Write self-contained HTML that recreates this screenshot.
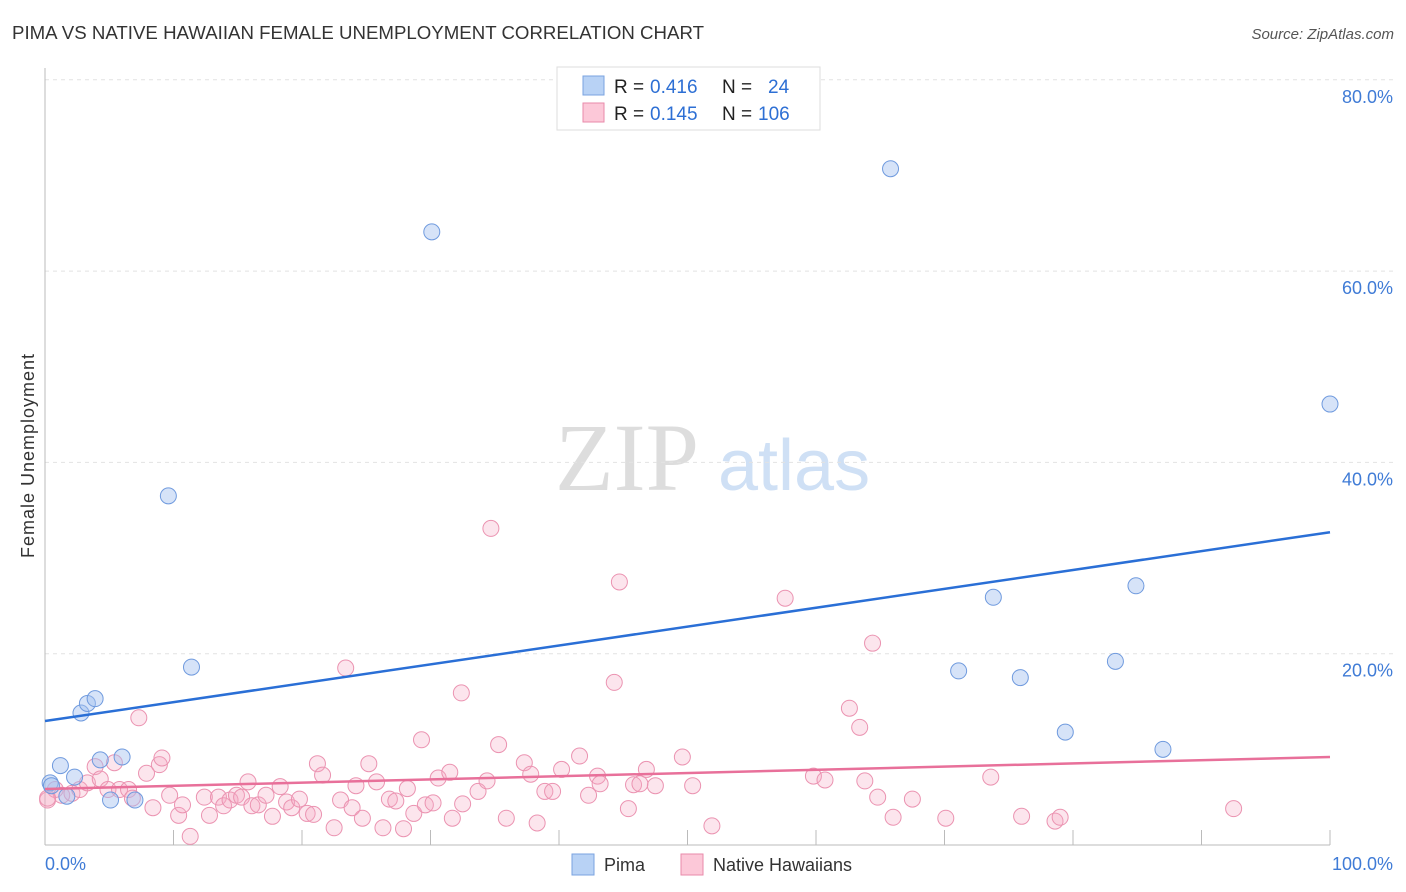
<!DOCTYPE html>
<html><head><meta charset="utf-8"><style>
body{margin:0;background:#fff;font-family:"Liberation Sans",sans-serif;}
svg{display:block}
</style></head><body>
<svg id="chart" width="1406" height="892">
<text x="12" y="39" font-size="18" fill="#333" textLength="692" lengthAdjust="spacingAndGlyphs">PIMA VS NATIVE HAWAIIAN FEMALE UNEMPLOYMENT CORRELATION CHART</text>
<text x="1394" y="39" font-size="15" fill="#555" font-style="italic" text-anchor="end">Source: ZipAtlas.com</text>
<text x="555" y="490" font-size="96" fill="#ddd" font-family="Liberation Serif,serif">ZIP</text>
<text x="718" y="490" font-size="72" fill="#cfe0f5">atlas</text>
<text transform="translate(34,456) rotate(-90)" font-size="18" fill="#333" text-anchor="middle" textLength="204">Female Unemployment</text>
<g id="grid"></g><g id="marks"></g>
<g>
<rect x="557" y="67" width="263" height="63" fill="#fff" stroke="#ddd"/>
<rect x="583" y="76" width="21" height="19" fill="#b8d2f5" stroke="#7aa3e0"/>
<rect x="583" y="103" width="21" height="19" fill="#fcc8d8" stroke="#e88aaa"/>
<text x="614" y="93" font-size="19" fill="#222">R =</text>
<text x="650" y="93" font-size="19" fill="#2d6fd4">0.416</text>
<text x="722" y="93" font-size="19" fill="#222">N =</text>
<text x="768" y="93" font-size="19" fill="#2d6fd4">24</text>
<text x="614" y="120" font-size="19" fill="#222">R =</text>
<text x="650" y="120" font-size="19" fill="#2d6fd4">0.145</text>
<text x="722" y="120" font-size="19" fill="#222">N =</text>
<text x="758" y="120" font-size="19" fill="#2d6fd4">106</text>
</g>
<g>
<rect x="572" y="854" width="22" height="21" fill="#b8d2f5" stroke="#7aa3e0"/>
<text x="604" y="871" font-size="18" fill="#333">Pima</text>
<rect x="681" y="854" width="22" height="21" fill="#fcc8d8" stroke="#e88aaa"/>
<text x="713" y="871" font-size="18" fill="#333">Native Hawaiians</text>
</g>
</svg>
<script>
const blueX=[0.4,1.2,2.3,1.7,2.8,3.3,3.9,4.3,5.1,6.0,7.0,9.6,11.4,30.1,65.8,71.1,73.8,75.9,79.4,83.3,84.9,87.0,100,0.5];
const blueY=[6.5,8.3,7.1,5.1,13.8,14.8,15.3,8.9,4.7,9.2,4.7,36.5,18.6,64.1,70.7,18.2,25.9,17.5,11.8,19.2,27.1,10.0,46.1,6.2];
const pinkX=[0.2,0.8,1.3,2.1,2.7,3.3,3.9,4.3,4.9,5.4,5.8,6.5,6.8,7.3,7.9,8.4,8.9,9.1,9.7,10.4,10.7,11.3,12.4,12.8,13.5,13.9,14.4,14.9,15.3,15.8,16.1,16.6,17.2,17.7,18.3,18.8,19.2,19.8,20.4,20.9,21.2,21.6,22.5,23.0,23.4,23.9,24.2,24.7,25.2,25.8,26.3,26.8,27.3,27.9,28.2,28.7,29.3,29.6,30.2,30.6,31.5,31.7,32.4,32.5,33.7,34.4,34.7,35.3,35.9,37.3,37.8,38.3,38.9,39.5,40.2,41.6,42.3,43.0,43.2,44.3,44.7,45.4,45.8,46.3,46.8,47.5,49.6,50.4,51.9,57.6,59.8,60.7,62.6,63.4,63.8,64.4,64.8,66.0,67.5,70.1,73.6,76.0,78.6,79.0,92.5,0.2];
const pinkY=[4.7,5.8,5.2,5.4,5.8,6.5,8.2,6.9,5.8,8.6,5.8,5.8,4.9,13.3,7.5,3.9,8.4,9.1,5.2,3.1,4.2,0.9,5.0,3.1,5.0,4.1,4.7,5.2,5.0,6.6,4.1,4.2,5.2,3.0,6.1,4.5,3.9,4.8,3.3,3.2,8.5,7.3,1.8,4.7,18.5,3.9,6.2,2.8,8.5,6.6,1.8,4.8,4.6,1.7,5.9,3.3,11.0,4.2,4.4,7.0,7.6,2.8,15.9,4.3,5.6,6.7,33.1,10.5,2.8,8.6,7.4,2.3,5.6,5.6,7.9,9.3,5.2,7.2,6.4,17.0,27.5,3.8,6.3,6.4,7.9,6.2,9.2,6.2,2.0,25.8,7.2,6.8,14.3,12.3,6.7,21.1,5.0,2.9,4.8,2.8,7.1,3.0,2.5,2.9,3.8,4.9];
const blueTrend=[12.96,32.7];
const pinkTrend=[5.85,9.2];
const yTicks=[20,40,60,80];
const xTickVals=[0,10,20,30,40,50,60,70,80,90,100];
const NS='http://www.w3.org/2000/svg';
const sx=v=>45+v*12.85, sy=v=>845-v*9.565;
function mk(tag,attrs,parent){const e=document.createElementNS(NS,tag);for(const k in attrs)e.setAttribute(k,attrs[k]);parent.appendChild(e);return e;}
const grid=document.getElementById('grid'),marks=document.getElementById('marks');
yTicks.forEach(t=>{
 const l=mk('line',{x1:45,x2:1395,y1:sy(t),y2:sy(t),stroke:'#e2e2e2','stroke-dasharray':'4,4'},grid);
 
 
 const tx=mk('text',{x:1393,y:sy(t)+23,'font-size':18,fill:'#3f7bd6','text-anchor':'end'},grid);
 tx.textContent=t.toFixed(1)+'%';
 
 
});
const ax=mk('line',{x1:45,x2:1330,y1:845,y2:845,stroke:'#bbb'},grid);


const ay=mk('line',{x1:45,x2:45,y1:68,y2:845,stroke:'#bbb'},grid);


xTickVals.forEach(t=>{
 const l=mk('line',{x1:sx(t),x2:sx(t),y1:830,y2:845,stroke:'#bbb'},grid);
 
 
});
const xl=mk('text',{x:45,y:870,'font-size':18,fill:'#3f7bd6'},grid);xl.textContent='0.0%';


const xr=mk('text',{x:1393,y:870,'font-size':18,fill:'#3f7bd6','text-anchor':'end'},grid);xr.textContent='100.0%';


pinkX.forEach((x,i)=>{
 const c=mk('circle',{cx:sx(x),cy:sy(pinkY[i]),r:8,fill:'rgba(244,170,195,0.3)',stroke:'#eb93b1','stroke-width':1},marks);
 
 
});
blueX.forEach((x,i)=>{
 const c=mk('circle',{cx:sx(x),cy:sy(blueY[i]),r:8,fill:'rgba(164,194,240,0.45)',stroke:'#6f9ade','stroke-width':1},marks);
 
 
});
const bl=mk('line',{x1:sx(0),x2:sx(100),y1:sy(blueTrend[0]),y2:sy(blueTrend[1]),stroke:'#2a6fd6','stroke-width':2.5},marks);


const pl=mk('line',{x1:sx(0),x2:sx(100),y1:sy(pinkTrend[0]),y2:sy(pinkTrend[1]),stroke:'#e8709a','stroke-width':2.5},marks);


</script>
</body></html>
